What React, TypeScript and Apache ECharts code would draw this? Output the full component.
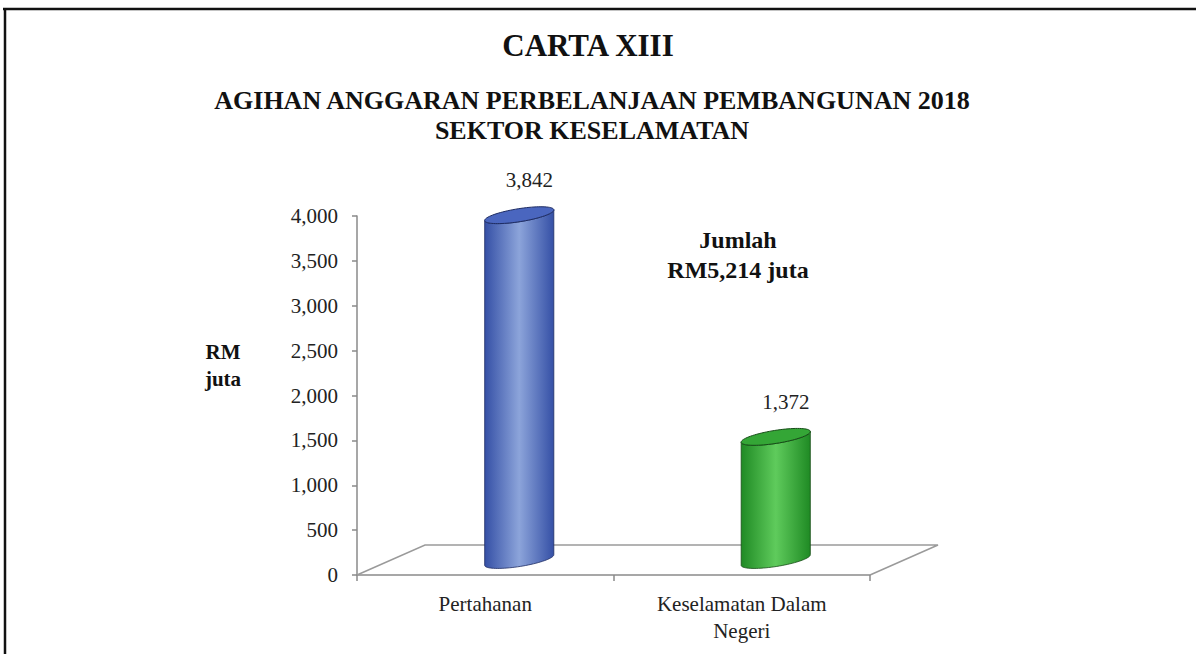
import React, { useEffect, useRef } from "react";
import * as echarts from "echarts";

const categories = ["Pertahanan", "Keselamatan Dalam\nNegeri"];
const values = [3842, 1372];
const yMin = 0;
const yMax = 4000;
const yInterval = 500;
const titleText = "CARTA XIII";
const subtitleText = "AGIHAN ANGGARAN PERBELANJAAN PEMBANGUNAN 2018\nSEKTOR KESELAMATAN";
const yAxisName = "RM\njuta";
const totalText = "Jumlah\nRM5,214 juta";

const SERIF = "'Liberation Serif', 'Times New Roman', serif";

const barColors = [
  { edge: "#3550a6", mid: "#8ca4da", top: "#4a66bf", line: "#1e2c63" },
  { edge: "#1f8a24", mid: "#5fcb5c", top: "#34a636", line: "#164d17" },
];

const DEPTH_X = 68;
const DEPTH_Y = -30;

export default function App() {
  const ref = useRef<HTMLDivElement>(null);

  useEffect(() => {
    if (!ref.current) return;
    const chart = echarts.init(ref.current, undefined, { renderer: "svg" });

    const theta = (9 * Math.PI) / 180;
    const rx = 35;
    const ry = 6.5;
    const pt = (cx: number, cy: number, t: number) => [
      cx + rx * Math.cos(t) * Math.cos(theta) + ry * Math.sin(t) * Math.sin(theta),
      cy - rx * Math.cos(t) * Math.sin(theta) + ry * Math.sin(t) * Math.cos(theta),
    ];

    const option: any = {
      animation: false,
      backgroundColor: "#ffffff",
      graphic: [
        {
          type: "line",
          shape: { x1: 3, y1: 9, x2: 1196, y2: 9 },
          style: { stroke: "#111", lineWidth: 2.5 },
        },
        {
          type: "line",
          shape: { x1: 5, y1: 8, x2: 5, y2: 654 },
          style: { stroke: "#111", lineWidth: 2.5 },
        },
        {
          type: "text",
          x: 223,
          y: 365,
          style: {
            text: yAxisName,
            font: `bold 21px ${SERIF}`,
            fill: "#111",
            align: "center",
            verticalAlign: "middle",
            lineHeight: 27,
          },
        },
        {
          type: "text",
          x: 738,
          y: 255,
          style: {
            text: totalText,
            font: `bold 24px ${SERIF}`,
            fill: "#111",
            align: "center",
            verticalAlign: "middle",
            lineHeight: 30,
          },
        },
      ],
      title: [
        {
          text: titleText,
          left: 583,
          top: 25,
          textAlign: "center",
          textStyle: { fontFamily: SERIF, fontWeight: "bold", fontSize: 31, color: "#111" },
        },
        {
          text: subtitleText,
          left: 587,
          top: 80,
          textAlign: "center",
          textStyle: {
            fontFamily: SERIF,
            fontWeight: "bold",
            fontSize: 26,
            color: "#111",
            lineHeight: 30,
          },
        },
      ],
      grid: { left: 357, right: 326, top: 216, bottom: 79, containLabel: false },
      xAxis: {
        type: "category",
        data: categories,
        boundaryGap: true,
        axisLine: { show: true, lineStyle: { color: "#8a8a8a", width: 1.5 } },
        axisTick: { show: true, length: 6, lineStyle: { color: "#8a8a8a", width: 1.5 } },
        axisLabel: {
          margin: 15,
          fontFamily: SERIF,
          fontSize: 21,
          color: "#222",
          lineHeight: 27,
          interval: 0,
        },
        splitLine: { show: false },
      },
      yAxis: {
        type: "value",
        min: yMin,
        max: yMax,
        interval: yInterval,
        axisLine: { show: true, lineStyle: { color: "#8a8a8a", width: 1.5 } },
        axisTick: { show: true, length: 5, lineStyle: { color: "#8a8a8a", width: 1.5 } },
        axisLabel: {
          margin: 19,
          fontFamily: SERIF,
          fontSize: 21,
          color: "#222",
          formatter: (v: number) => v.toLocaleString("en-US"),
        },
        splitLine: { show: false },
      },
      series: [
        {
          type: "custom",
          name: "floor",
          z: 1,
          silent: true,
          data: [[0, 0]],
          renderItem: (params: any) => {
            const cs = params.coordSys;
            const x0 = cs.x;
            const x1 = cs.x + cs.width;
            const yb = cs.y + cs.height;
            return {
              type: "polyline",
              shape: {
                points: [
                  [x0, yb],
                  [x0 + DEPTH_X, yb + DEPTH_Y],
                  [x1 + DEPTH_X, yb + DEPTH_Y],
                  [x1, yb],
                ],
              },
              style: { stroke: "#9a9a9a", lineWidth: 1.5, fill: "none" },
            };
          },
        },
        {
          type: "custom",
          name: "bars",
          z: 5,
          data: values.map((v, i) => [i, v]),
          renderItem: (params: any, api: any) => {
            const i = api.value(0);
            const v = api.value(1);
            const base = api.coord([i, 0]);
            const top = api.coord([i, v]);
            const cx = base[0] + DEPTH_X / 2;
            const yb = base[1] + DEPTH_Y / 2;
            const yt = top[1] + DEPTH_Y / 2;
            const c = barColors[params.dataIndex % barColors.length];
            const N = 40;
            const body: number[][] = [];
            for (let k = 0; k <= N; k++) body.push(pt(cx, yt, (Math.PI * k) / N));
            for (let k = N; k >= 0; k--) body.push(pt(cx, yb, (Math.PI * k) / N));
            const topFace: number[][] = [];
            for (let k = 0; k < 2 * N; k++) topFace.push(pt(cx, yt, (Math.PI * k) / N));
            return {
              type: "group",
              children: [
                {
                  type: "polygon",
                  shape: { points: body },
                  style: {
                    fill: new echarts.graphic.LinearGradient(0, 0, 1, 0, [
                      { offset: 0, color: c.edge },
                      { offset: 0.5, color: c.mid },
                      { offset: 1, color: c.edge },
                    ]),
                    stroke: c.line,
                    lineWidth: 0.8,
                  },
                },
                {
                  type: "polygon",
                  shape: { points: topFace },
                  style: { fill: c.top, stroke: c.line, lineWidth: 1 },
                },
                {
                  type: "text",
                  style: {
                    text: Number(v).toLocaleString("en-US"),
                    x: cx + 10,
                    y: yt - 35,
                    align: "center",
                    verticalAlign: "middle",
                    font: `21px ${SERIF}`,
                    fill: "#222",
                  },
                },
              ],
            };
          },
        },
      ],
    };

    chart.setOption(option);
    return () => chart.dispose();
  }, []);

  return (
    <div
      ref={ref}
      style={{ position: "fixed", left: 0, top: 0, width: 1196, height: 654, background: "#fff" }}
    />
  );
}
